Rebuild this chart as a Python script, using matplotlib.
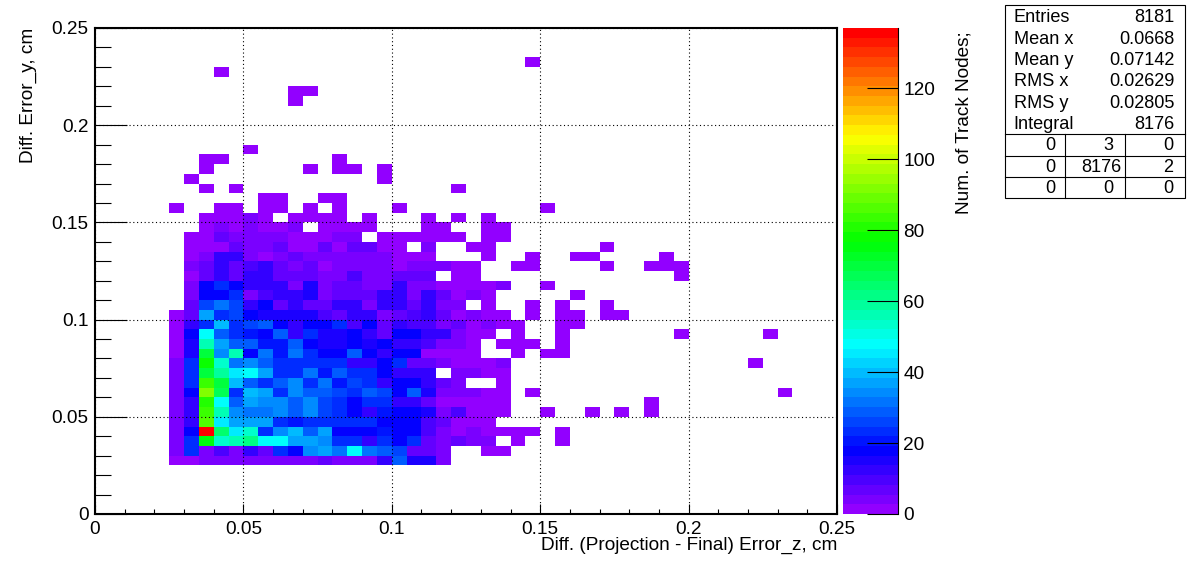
import colorsys
import numpy as np
import matplotlib
matplotlib.use("Agg")
import matplotlib.pyplot as plt
from matplotlib.colors import ListedColormap, Normalize
from matplotlib.lines import Line2D
from matplotlib.patches import Rectangle
from matplotlib.ticker import MultipleLocator, FuncFormatter, FixedLocator

plt.rcParams['font.family'] = ['Liberation Sans', 'DejaVu Sans']

# ---------- data ----------
n_bins = 50
axis_max = 0.25
z_max = 137
first_col = 5

# counts per y-bin, listed from x-bin 5 onward
row_05 = [2,2,5,3,5,5,5,3,3,4,8,3,3,5,13,28,15,15,5]
row_06 = [5,24,5,10,5,12,7,24,18,35,38,31,49,32,28,26,8,8,5,0,0,2,2]
row_07 = [5,22,75,54,56,62,49,49,38,38,33,24,22,13,23,18,24,7,3,8,5,5,0,2,0,0,2]
row_08 = [5,18,137,64,46,53,24,35,40,28,37,18,18,18,20,18,18,10,5,2,5,2,2,2,2,0,2]
row_09 = [3,13,87,44,37,37,37,24,20,24,23,23,22,23,18,18,18,10,8,2,2,2]
row_10 = [5,13,83,56,35,32,32,35,28,35,26,23,18,12,20,18,18,15,5,9,2,2,2,0,0,2,0,0,2,0,2,0,2]
row_11 = [5,13,82,49,28,37,35,35,28,35,26,24,18,23,24,12,13,7,2,2,2,2,2,0,0,0,0,0,0,0,0,0,2]
row_12 = [5,18,93,68,24,40,37,24,35,28,28,26,22,28,26,18,28,15,5,5,5,2,2,0,2,0,0,0,0,0,0,0,0,0,0,0,0,0,0,0,0,2]
row_13 = [5,24,83,70,40,28,24,28,35,23,32,20,26,24,12,18,18,13,8,5,0,0,2]
row_14 = [5,24,70,60,46,49,37,24,24,31,20,28,23,24,18,13,12,12,0,5,5,2,2]
row_15 = [5,22,78,54,31,35,28,23,24,24,24,23,13,13,18,24,8,7,5,2,2,2,5,0,0,0,0,0,0,0,0,0,0,0,0,0,0,0,0,2]
row_16 = [2,15,70,35,56,18,31,20,31,22,18,18,28,18,13,18,18,2,2,2,2,0,0,2,0,2,2]
row_17 = [2,15,56,38,28,28,20,20,28,18,15,15,18,15,18,13,12,10,5,5,2,0,2,2,2,0,2]
row_18 = [2,18,49,28,22,20,18,28,13,23,15,15,18,12,7,18,18,13,13,5,2,2,0,2,0,0,2,0,0,0,0,0,0,0,2,0,0,0,0,0,2]
row_19 = [2,13,23,40,22,26,28,18,13,18,18,24,10,18,8,12,10,10,5,8,2,5,2,2,0,0,2,2]
row_20 = [2,8,36,24,26,18,15,15,15,15,10,8,13,12,5,7,10,12,8,2,5,2,2,0,2,0,2,2,0,2,2]
row_21 = [0,8,26,31,26,13,18,8,13,7,7,12,12,5,12,11,7,13,3,3,0,2,0,0,2,0,2,0,0,2]
row_22 = [0,5,18,18,24,5,10,13,13,15,5,8,8,8,12,12,5,12,8,2,5,2,0,0,0,0,0,2]
row_23 = [0,5,18,24,18,13,13,12,5,15,5,8,8,5,5,12,5,5,2,2,2,2,5,0,0,2]
row_24 = [0,2,8,13,8,13,12,8,8,8,5,5,10,5,5,8,8,8,0,2,2,0,0,0,0,0,0,0,0,0,0,0,0,0,2]
row_25 = [0,5,8,13,8,10,12,8,3,8,2,5,5,3,3,2,5,5,5,2,2,0,0,2,2,0,0,0,0,2,0,0,2,2,2]
row_26 = [0,2,5,12,13,5,2,5,8,5,5,5,5,5,5,2,2,2,0,0,0,2,0,0,2,0,0,2,2,0,0,0,0,2]
row_27 = [0,2,2,2,8,5,5,7,2,2,8,2,7,7,2,2,0,5,0,0,2,2,0,0,0,0,0,0,0,2]
row_28 = [0,2,2,8,5,5,5,5,2,2,2,5,5,0,2,2,2,2,2,2,0,2,2]
row_29 = [0,0,2,5,2,5,2,2,5,0,2,2,2,2,0,0,0,2,2,0,0,2,2]
row_30 = [0,0,2,2,2,5,2,0,2,2,2,2,0,2,0,0,0,2,0,2,0,2]
row_31 = [2,0,0,2,2,0,2,2,0,2,0,2,0,0,0,2,0,0,0,0,0,0,0,0,0,2]
low_rows = [row_05,row_06,row_07,row_08,row_09,row_10,row_11,row_12,row_13,row_14,
            row_15,row_16,row_17,row_18,row_19,row_20,row_21,row_22,row_23,row_24,
            row_25,row_26,row_27,row_28,row_29,row_30,row_31]
low_row_start = 5
# isolated low-count bins above the bulk: y-bin -> x-bins
sparse_bins = {32:[11,12,15,16], 33:[7,9,24], 34:[6,19], 35:[7,14,16,17,19],
               36:[7,8,16], 37:[10], 42:[13], 43:[13,14], 45:[8], 46:[29]}
sparse_count = 2

x_major = [0, 0.05, 0.1, 0.15, 0.2, 0.25]
z_ticks = [0, 20, 40, 60, 80, 100, 120]
x_title = "Diff. (Projection - Final) Error_z, cm"
y_title = "Diff. Error_y, cm"
z_title = "Num. of Track Nodes;"
stats_names = ["Entries", "Mean x", "Mean y", "RMS x", "RMS y", "Integral"]
stats_values = ["8181", "0.0668", "0.07142", "0.02629", "0.02805", "8176"]
stats_grid = [["0", "3", "0"], ["0", "8176", "2"], ["0", "0", "0"]]

# ---------- assemble ----------
counts = np.zeros((n_bins, n_bins))
for j, r in enumerate(low_rows):
    counts[low_row_start + j, first_col:first_col + len(r)] = r
for j, cols in sparse_bins.items():
    counts[j, cols] = sparse_count
counts = np.ma.masked_equal(counts, 0)
edges = np.linspace(0, axis_max, n_bins + 1)

# ROOT "pretty" palette: 50 hues from violet to red
palette = [colorsys.hls_to_rgb((280 - (i + 1) * 5.6) / 360, 0.5, 1.0) for i in range(50)]
cmap = ListedColormap(palette)
norm = Normalize(0, z_max)

W, H = 1196, 572
fig = plt.figure(figsize=(W / 100, H / 100), dpi=100)
def fx(x): return x / W
def fy(y): return 1 - y / H

L, R, T, B = 95, 837, 28, 514
LABEL = 13.7
ax = fig.add_axes([fx(L), fy(B), fx(R - L), (B - T) / H])
mesh = ax.pcolormesh(edges, edges, counts, cmap=cmap, norm=norm, antialiased=False, linewidth=0)
ax.set_xlim(0, axis_max)
ax.set_ylim(0, axis_max)
fmt = FuncFormatter(lambda v, p: f"{v:g}")
for axis in (ax.xaxis, ax.yaxis):
    axis.set_major_locator(FixedLocator(x_major))
    axis.set_minor_locator(MultipleLocator(0.01))
    axis.set_major_formatter(fmt)
ax.tick_params(axis='x', which='major', direction='in', length=7.2, width=0.8, labelsize=LABEL, pad=5.2)
ax.tick_params(axis='x', which='minor', direction='in', length=3.6, width=0.8)
ax.tick_params(axis='y', which='major', direction='in', length=23, width=0.8, labelsize=LABEL, pad=4.6)
ax.tick_params(axis='y', which='minor', direction='in', length=11.5, width=0.8)
ax.set_axisbelow(False)
ax.grid(True, which='major', color='black', linewidth=0.8, linestyle=(0, (1, 2.4)))
for s in ax.spines.values():
    s.set_linewidth(1.5)
    s.set_color('black')

cax = fig.add_axes([fx(843), fy(B), fx(897.5 - 843), (B - T) / H])
cb = fig.colorbar(mesh, cax=cax)
cb.outline.set_visible(False)
cax.spines['right'].set_visible(True)
cax.spines['right'].set_linewidth(0.8)
cb.set_ticks(z_ticks)
cb.ax.minorticks_off()
cax.tick_params(axis='y', direction='in', length=22.3, width=0.8, labelsize=LABEL, pad=4.3, right=True, left=False)

fig.text(fx(837), fy(545), x_title, ha='right', va='center', fontsize=LABEL)
fig.text(fx(28), fy(28), y_title, ha='center', va='top', rotation=90, fontsize=LABEL)
fig.text(fx(964), fy(31), z_title, ha='center', va='top', rotation=90, fontsize=LABEL)

# statistics box
bx0, bx1, by0, by1 = 1004.5, 1184.5, 4.5, 198
fig.add_artist(Rectangle((fx(bx0), fy(by1)), fx(bx1 - bx0), (by1 - by0) / H,
                         transform=fig.transFigure, fc='white', ec='black', lw=0.8))
for y in (134, 155.5, 177):
    fig.add_artist(Line2D([fx(bx0), fx(bx1)], [fy(y), fy(y)], transform=fig.transFigure, color='black', lw=0.8))
for x in (1064.5, 1124.5):
    fig.add_artist(Line2D([fx(x), fx(x)], [fy(134), fy(by1)], transform=fig.transFigure, color='black', lw=0.8))
for i, (n, v) in enumerate(zip(stats_names, stats_values)):
    y = 18 + 21.3 * i
    fig.text(fx(1013.5), fy(y), n, ha='left', va='center', fontsize=13.1)
    fig.text(fx(1174.5), fy(y), v, ha='right', va='center', fontsize=13.1)
mid_right = [1113, 1121, 1113]
for row, y, m in zip(stats_grid, (146, 167, 188.5), mid_right):
    for val, x in zip(row, (1055, m, 1173.5)):
        fig.text(fx(x), fy(y), val, ha='right', va='center', fontsize=13.1)

fig.savefig("out.png", dpi=100)
